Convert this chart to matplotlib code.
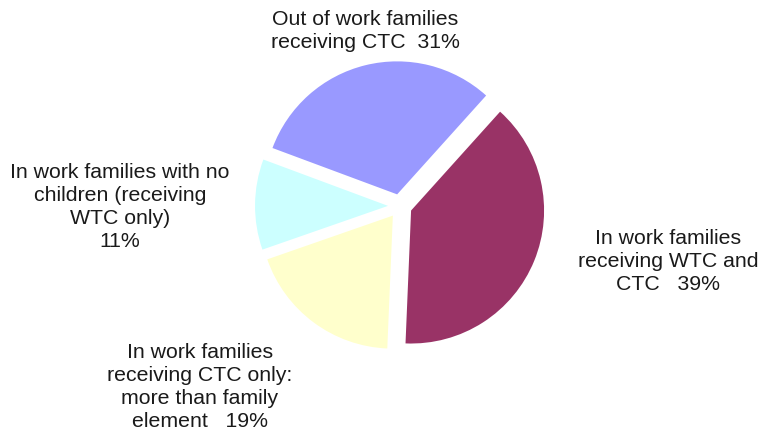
import matplotlib
matplotlib.use("Agg")
from matplotlib import pyplot as plt

# slice data, clockwise from the top-right edge
labels = ["In work families\nreceiving WTC and\nCTC   39%",
          "In work families\nreceiving CTC only:\nmore than family\nelement   19%",
          "In work families with no\nchildren (receiving\nWTC only)\n11%",
          "Out of work families\nreceiving CTC  31%"]
shares = [39, 19, 11, 31]
colours = ["#993366", "#FFFFCC", "#CCFFFF", "#9999FF"]
# label anchor points in pie-radius units
label_pos = [(2.015, -0.414), (-1.504, -1.361), (-2.105, -0.01), (-0.26, 1.316)]

fig = plt.figure(figsize=(7.6, 4.3), dpi=100)
ax = fig.add_axes([0, 0, 1, 1])
ax.pie(shares, colors=colours, startangle=48, counterclock=False,
       explode=[0.09] * 4, radius=1.0)

for text, (x, y) in zip(labels, label_pos):
    ax.text(x, y, text, ha="center", va="center", fontsize=15.3,
            family="Liberation Sans", color="#1a1a1a", linespacing=1.27)

# 133 px per unit, pie centre at pixel (400, 206)
ax.set_xlim(-400 / 133, 360 / 133)
ax.set_ylim(-224 / 133, 206 / 133)
ax.set_aspect("auto")
ax.axis("off")
fig.savefig("out.png", dpi=100, facecolor="white")
